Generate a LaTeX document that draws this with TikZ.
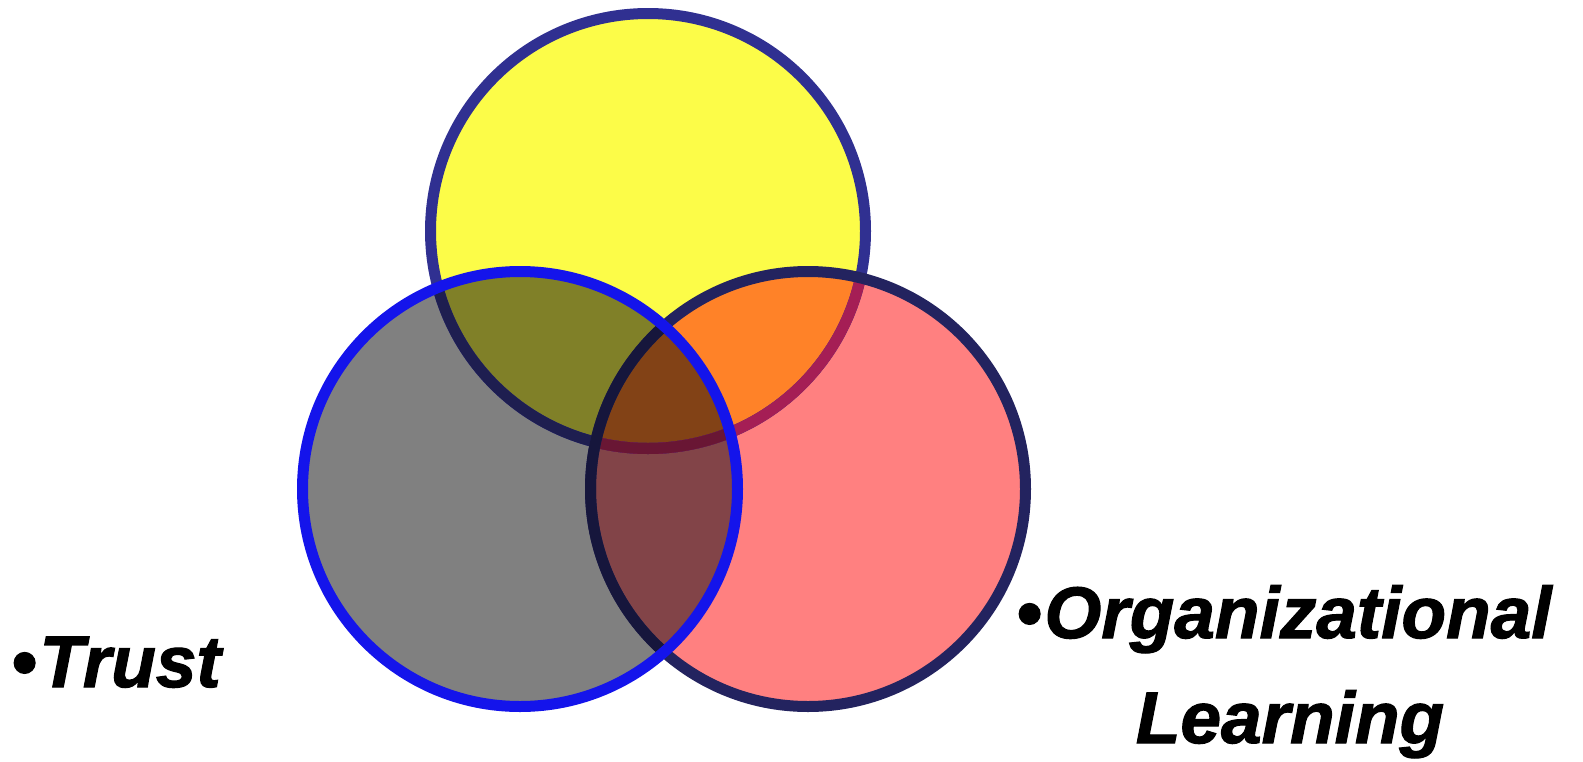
\documentclass[tikz,border=0pt]{standalone}
\usepackage{fontspec}
\setmainfont{Liberation Sans}
\newfontfamily\lblfont{Liberation Sans Bold Italic}[FakeBold=1.6]
\definecolor{yfill}{RGB}{252,252,72}
\definecolor{gfill}{RGB}{128,128,128}
\definecolor{pfill}{RGB}{255,128,128}
\definecolor{ygfill}{RGB}{128,128,40}
\definecolor{ypfill}{RGB}{255,130,40}
\definecolor{gpfill}{RGB}{130,68,72}
\definecolor{ygpfill}{RGB}{130,66,22}
\definecolor{ystroke}{RGB}{48,48,145}
\definecolor{ystrokeg}{RGB}{30,30,80}
\definecolor{ystrokep}{RGB}{165,30,85}
\definecolor{ystrokegp}{RGB}{105,22,52}
\definecolor{gstroke}{RGB}{20,20,235}
\definecolor{pstroke}{RGB}{35,35,95}
\definecolor{pstrokeg}{RGB}{22,22,60}
\begin{document}
\begin{tikzpicture}[x=1pt,y=-1pt,
  lbl/.style={font=\lblfont\fontsize{73}{84}\selectfont, inner sep=0pt, outer sep=0pt},
  ring/.style={line width=11pt}]
\def\R{217.5pt}
\useasboundingbox (0,0) rectangle (1583,761);
\fill[white] (0,0) rectangle (1583,761);
\coordinate (Y) at (648,231);
\coordinate (G) at (520,489);
\coordinate (P) at (808,489);
% fills
\fill[yfill] (Y) circle (\R);
\fill[gfill] (G) circle (\R);
\fill[pfill] (P) circle (\R);
\begin{scope}\clip (Y) circle (\R); \fill[ygfill] (G) circle (\R);\end{scope}
\begin{scope}\clip (Y) circle (\R); \fill[ypfill] (P) circle (\R);\end{scope}
\begin{scope}\clip (G) circle (\R); \fill[gpfill] (P) circle (\R);\end{scope}
\begin{scope}\clip (Y) circle (\R); \clip (G) circle (\R); \fill[ygpfill] (P) circle (\R);\end{scope}
% yellow ring
\draw[ring, ystroke] (Y) circle (\R);
\begin{scope}\clip (G) circle (\R); \draw[ring, ystrokeg] (Y) circle (\R);\end{scope}
\begin{scope}\clip (P) circle (\R); \draw[ring, ystrokep] (Y) circle (\R);\end{scope}
\begin{scope}\clip (P) circle (\R); \clip (G) circle (\R); \draw[ring, ystrokegp] (Y) circle (\R);\end{scope}
% pink ring
\draw[ring, pstroke] (P) circle (\R);
\begin{scope}\clip (G) circle (\R); \draw[ring, pstrokeg] (P) circle (\R);\end{scope}
% gray ring
\draw[ring, gstroke] (G) circle (\R);
% labels
\node[lbl, anchor=base west] (trust) at (11,687) {•\hspace{3pt}Trust};
\node[lbl, anchor=base west] (org) at (1016,638) {•\hspace{3pt}Organizational};
\node[lbl, anchor=base] (learn) at (1290,743) {Learning};
\end{tikzpicture}
\end{document}
